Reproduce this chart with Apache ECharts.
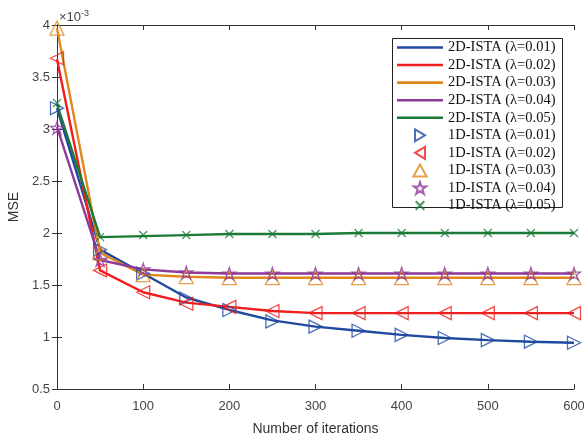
<!DOCTYPE html>
<html><head><meta charset="utf-8">
<script src="https://cdn.jsdelivr.net/npm/echarts@6/dist/echarts.min.js"></script>
<style>html,body{margin:0;padding:0;background:#fff}#c{width:584px;height:439px}</style>
</head><body><div id="c"></div>
<script>
var iterations = [0,50,100,150,200,250,300,350,400,450,500,550,600];
var xTicks = [0,100,200,300,400,500,600];
var yTicks = [0.5,1,1.5,2,2.5,3,3.5,4];
// 2D-ISTA MSE (x10^-3)
var ista2D_001 = [3.20,1.84,1.61,1.38,1.26,1.16,1.10,1.06,1.02,0.99,0.97,0.955,0.945];
var ista2D_002 = [3.67,1.64,1.43,1.33,1.29,1.25,1.23,1.23,1.23,1.23,1.23,1.23,1.23];
var ista2D_003 = [3.97,1.81,1.60,1.58,1.57,1.57,1.57,1.57,1.57,1.57,1.57,1.57,1.57];
var ista2D_004 = [3.02,1.74,1.65,1.62,1.61,1.61,1.61,1.61,1.61,1.61,1.61,1.61,1.61];
var ista2D_005 = [3.24,1.96,1.97,1.98,1.99,1.99,1.99,2.00,2.00,2.00,2.00,2.00,2.00];
// 1D-ISTA MSE (x10^-3)
var ista1D_001 = [3.20,1.84,1.61,1.37,1.26,1.15,1.10,1.06,1.02,0.99,0.97,0.955,0.945];
var ista1D_002 = [3.68,1.64,1.43,1.32,1.29,1.25,1.23,1.23,1.23,1.23,1.23,1.23,1.23];
var ista1D_003 = [3.97,1.81,1.60,1.58,1.57,1.57,1.57,1.57,1.57,1.57,1.57,1.57,1.57];
var ista1D_004 = [3.01,1.74,1.65,1.62,1.61,1.61,1.61,1.61,1.61,1.61,1.61,1.61,1.61];
var ista1D_005 = [3.25,1.96,1.98,1.98,1.99,1.99,1.99,2.00,2.00,2.00,2.00,2.00,2.00];
var names2D = ['2D-ISTA (λ=0.01)','2D-ISTA (λ=0.02)','2D-ISTA (λ=0.03)','2D-ISTA (λ=0.04)','2D-ISTA (λ=0.05)'];
var names1D = ['1D-ISTA (λ=0.01)','1D-ISTA (λ=0.02)','1D-ISTA (λ=0.03)','1D-ISTA (λ=0.04)','1D-ISTA (λ=0.05)'];
var colors = ['#1f4aa0','#f01e1e','#e0881c','#8e3a9a','#1b7a36'];

var d2 = [ista2D_001,ista2D_002,ista2D_003,ista2D_004,ista2D_005];
var d1 = [ista1D_001,ista1D_002,ista1D_003,ista1D_004,ista1D_005];
function pairs(arr){return iterations.map(function(x,i){return [x,arr[i]];});}
var STAR = 'path://M50,2 L61,36 L97,36 L68,57 L79,92 L50,70 L21,92 L32,57 L3,36 L39,36 Z';
var XMARK = 'path://M0,0 L10,10 M10,0 L0,10';
var XICON = 'path://M-2,-2 L-2,-2 M0,0 L10,10 M10,0 L0,10 M12,12 L12,12';
var TRI_R = 'path://M1,0 L11,6 L1,12 Z';
var TRI_L = 'path://M11,0 L1,6 L11,12 Z';
var TRI_U = 'path://M6,0 L12,11 L0,11 Z';
var LINE_ICON = 'path://M0,0 L46,0 L46,2.6 L0,2.6 Z';
var sym = [
  {symbol:'triangle', rotate:-90, size:13, icon:TRI_R},
  {symbol:'triangle', rotate:90, size:13, icon:TRI_L},
  {symbol:'triangle', rotate:0, size:14, icon:TRI_U},
  {symbol:STAR, rotate:0, size:13, icon:STAR},
  {symbol:XMARK, rotate:0, size:8, icon:XICON}
];
var series = [];
var legendData = [];
for (var i=0;i<5;i++){
  series.push({type:'line', name:names2D[i], data:pairs(d2[i]), symbol:'none', z:2, symbolKeepAspect:true,
    lineStyle:{color:colors[i], width:2.4}, itemStyle:{color:colors[i]}});
  legendData.push({name:names2D[i], icon:LINE_ICON, itemStyle:{color:colors[i], borderWidth:0}});
}
for (var j=0;j<5;j++){
  series.push({type:'scatter', name:names1D[j], data:pairs(d1[j]), z:3,
    symbol:sym[j].symbol, symbolRotate:sym[j].rotate, symbolSize:sym[j].size, symbolKeepAspect:true,
    itemStyle:{color:'rgba(255,255,255,0)', borderColor:colors[j], borderWidth:1.3}});
  legendData.push({name:names1D[j], icon:sym[j].icon});
}
var axisCol = '#333';
var lbl = {fontFamily:'Liberation Sans', fontSize:13, color:'#444'};
var chart = echarts.init(document.getElementById('c'), null, {renderer:'canvas'});
chart.setOption({
  animation:false,
  backgroundColor:'#fff',
  grid:{left:57, right:10, top:25, bottom:50, containLabel:false, outerBoundsMode:'none'},
  xAxis:[{type:'value', min:0, max:600, interval:100, position:'bottom',
     name:'Number of iterations', nameLocation:'middle', nameGap:33,
     nameTextStyle:{fontFamily:'Liberation Sans', fontSize:14, color:'#333'},
     axisLine:{lineStyle:{color:axisCol}}, axisTick:{inside:true, length:5, lineStyle:{color:axisCol}},
     axisLabel:Object.assign({margin:11, formatter:function(v){return xTicks.indexOf(v)>=0?String(v):'';}}, lbl),
     splitLine:{show:false}},
    {type:'value', min:0, max:600, interval:100, position:'top',
     axisLine:{lineStyle:{color:axisCol}}, axisTick:{inside:true, length:5, lineStyle:{color:axisCol}},
     axisLabel:{show:false}, splitLine:{show:false}}],
  yAxis:[{type:'value', min:0.5, max:4, interval:0.5, position:'left',
     name:'MSE', nameLocation:'middle', nameGap:30,
     nameTextStyle:{fontFamily:'Liberation Sans', fontSize:14, color:'#333'},
     axisLine:{show:true, lineStyle:{color:axisCol}}, axisTick:{show:true, inside:true, length:5, lineStyle:{color:axisCol}},
     axisLabel:Object.assign({margin:7, formatter:function(v){return yTicks.indexOf(v)>=0?String(v):'';}}, lbl),
     splitLine:{show:false}},
    {type:'value', min:0.5, max:4, interval:0.5, position:'right',
     axisLine:{show:true, lineStyle:{color:axisCol}}, axisTick:{show:true, inside:true, length:5, lineStyle:{color:axisCol}},
     axisLabel:{show:false}, splitLine:{show:false}}],
  legend:{orient:'vertical', left:392, top:38, padding:[2,6,4,5], itemWidth:46, itemHeight:12, itemGap:2.56,
    symbolRotate:0,
    textStyle:{fontFamily:'Liberation Serif', fontSize:14.5, color:'#111', lineHeight:14},
    data:legendData},
  graphic:[
    {type:'rect', left:392, top:38, shape:{width:170, height:169}, style:{fill:'#fff', stroke:'#222', lineWidth:1}, z:-1, silent:true},
    {type:'text', left:59, top:9, style:{rich:{a:{fontFamily:'Liberation Sans', fontSize:13, fill:'#444'}, b:{fontFamily:'Liberation Sans', fontSize:9, fill:'#444', verticalAlign:'top', padding:[0,0,8,0]}}, text:'{a|×10}{b|-3}'}}
  ],
  series:series
});
</script></body></html>
